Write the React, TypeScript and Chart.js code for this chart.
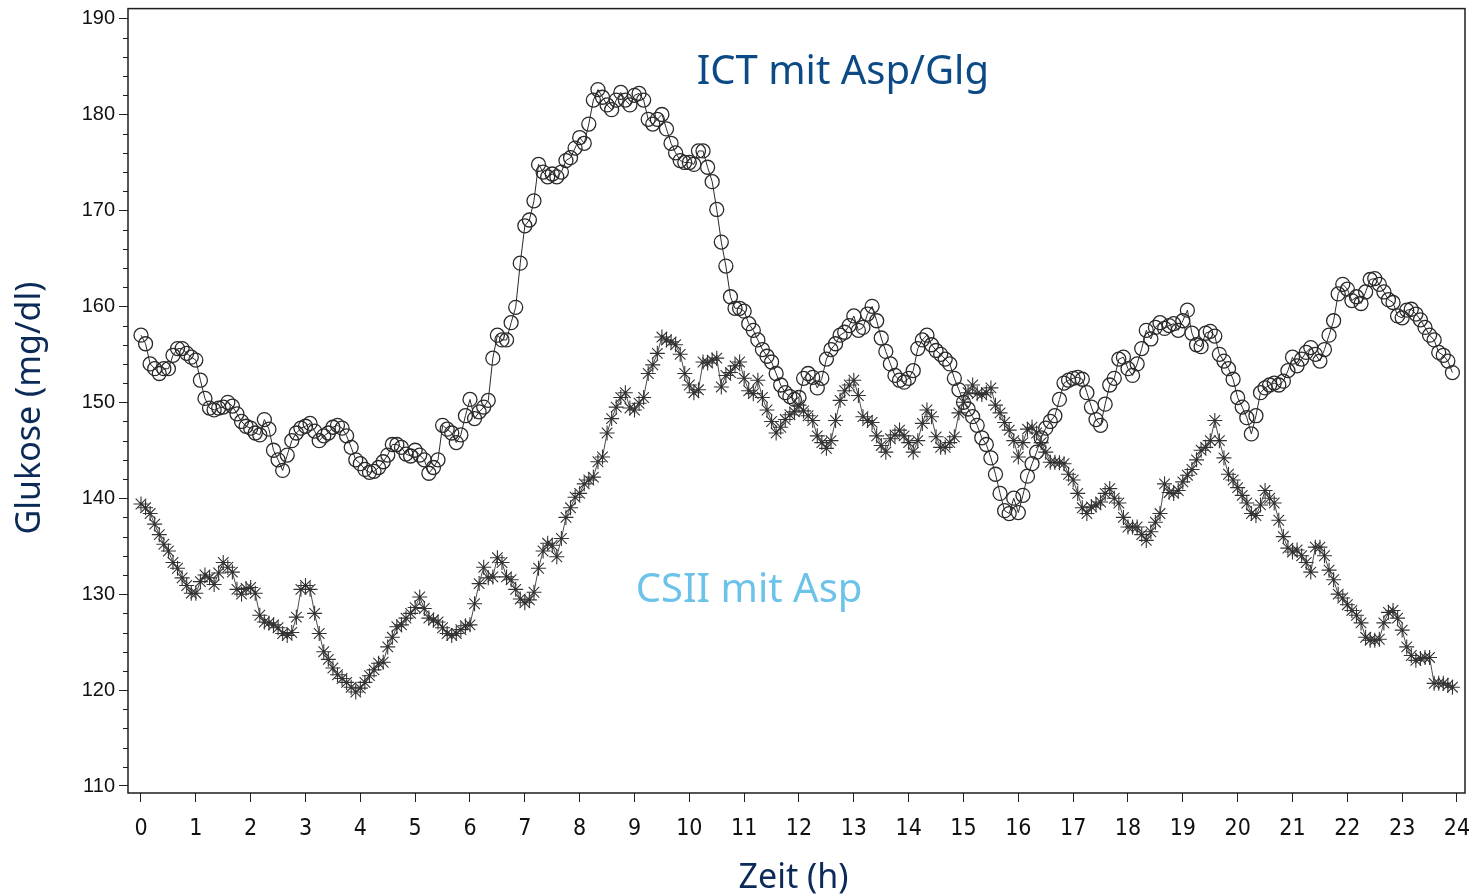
import { useEffect, useRef } from "react";
import { Chart, registerables } from "chart.js";

Chart.register(...registerables);

// Sampling interval of the glucose profiles (minutes)
const sampleMinutes = 5;

// ICT mit Asp/Glg (circles), one row per hour, 5-min values
const ictGlucose = [
  157, 156.1, 154, 153.5, 153, 153.5, 153.5, 154.9, 155.6, 155.6, 155.1, 154.7,
  154.4, 152.3, 150.4, 149.4, 149.2, 149.4, 149.5, 150, 149.6, 148.8, 148, 147.5,
  147.3, 146.8, 146.6, 148.2, 147.2, 145, 144, 142.9, 144.5, 146, 146.8, 147.3,
  147.5, 147.8, 147, 146, 146.5, 146.8, 147.4, 147.6, 147.3, 146.5, 145.3, 144,
  143.6, 143, 142.7, 142.8, 143.2, 143.8, 144.5, 145.6, 145.6, 145.3, 144.6, 144.4,
  145, 144.5, 144, 142.6, 143.2, 144, 147.6, 147.2, 146.8, 145.8, 146.6, 148.6,
  150.3, 148.3, 149, 149.5, 150.2, 154.6, 157, 156.5, 156.5, 158.3, 159.9, 164.5,
  168.4, 169, 171, 174.8, 174, 173.5, 173.8, 173.5, 174, 175.2, 175.5, 176.5,
  177.6, 177, 179, 181.5, 182.6, 181.8, 181, 180.5, 181.5, 182.3, 181.5, 181,
  182, 182.2, 181.5, 179.5, 179, 179.5, 180, 178.5, 177, 176, 175.2, 175,
  175, 174.8, 176.2, 176.2, 174.5, 173, 170.1, 166.7, 164.2, 161, 159.8, 159.8,
  159.5, 158.2, 157.5, 156.5, 155.5, 154.8, 154.2, 153, 151.8, 151, 150.6, 150.3,
  150.5, 152.5, 153, 152.6, 151.5, 152.5, 154.5, 155.5, 156.1, 157, 157.3, 158,
  159, 157.5, 157.8, 159.2, 160, 158.5, 156.7, 155.3, 154, 152.8, 152.3, 152.1,
  152.5, 153.3, 155.6, 156.5, 157, 156, 155.4, 155, 154.5, 154, 152.5, 151.3,
  150, 149.3, 148.5, 147.6, 146.3, 145.6, 144.2, 142.5, 140.5, 138.7, 138.4, 140,
  138.5, 140.3, 142.3, 143.6, 144.8, 146.3, 147.3, 148, 148.6, 150.3, 152, 152.3,
  152.5, 152.6, 152.4, 151, 149.5, 148.2, 147.6, 149.8, 151.8, 152.5, 154.5, 154.7,
  153.5, 152.8, 154, 155.6, 157.5, 156.6, 157.8, 158.3, 157.7, 158, 158.2, 157.5,
  158.5, 159.6, 157.2, 156, 155.8, 157.2, 157.4, 156.9, 155, 154.3, 153.5, 152.4,
  150.5, 149.5, 148.4, 146.7, 148.6, 151, 151.5, 151.8, 152, 151.8, 152.2, 153.3,
  154.7, 153.8, 154.5, 155.2, 155.7, 155, 154.3, 155.5, 157, 158.5, 161.3, 162.3,
  161.8, 160.6, 161, 160.3, 161.5, 162.8, 162.9, 162.3, 161.5, 160.7, 160.4, 159,
  158.8, 159.6, 159.7, 159.2, 158.6, 157.8, 157, 156.5, 155.2, 154.9, 154.3, 153.1,
];

// CSII mit Asp (asterisks), one row per hour, 5-min values
const csiiGlucose = [
  139.4, 139, 138.4, 137.3, 136.2, 135.2, 134.5, 133.3, 132.7, 131.7, 130.9, 130.1,
  130.1, 131.3, 132, 131.7, 131, 132.2, 133.3, 132.8, 132.3, 130.5, 130, 130.6,
  130.7, 130.1, 127.8, 127.1, 127, 126.8, 126.5, 125.9, 125.7, 126, 127.6, 130.5,
  130.9, 130.5, 128, 125.9, 124, 123.2, 122.3, 121.6, 121.2, 120.8, 120.3, 119.8,
  120.2, 120.8, 121.5, 122.1, 122.8, 122.9, 124.5, 125.5, 126.6, 126.8, 127.5, 128,
  128.6, 129.7, 128.5, 127.5, 127.3, 127.1, 126.5, 125.9, 125.7, 125.9, 126.3, 126.7,
  126.8, 129, 131.1, 132.8, 131.7, 131.8, 133.8, 133.3, 131.8, 131.5, 130.5, 129.5,
  129.1, 129.4, 130.2, 132.7, 134.5, 135.3, 135.1, 133.9, 135.8, 138, 139, 140.1,
  140.5, 141.5, 141.9, 142.2, 143.8, 144.3, 146.8, 148.3, 149.5, 150.5, 151, 149.4,
  149.2, 149.9, 150.5, 153, 153.9, 155.1, 156.8, 156.5, 156.3, 156, 155, 153,
  151.8, 151, 151.3, 154.2, 154.1, 154.4, 154.6, 151.6, 152.8, 153.1, 153.8, 154.2,
  152.5, 151.2, 150.9, 152.3, 150.5, 149.2, 148, 146.8, 147.4, 148.2, 148.7, 149,
  149.7, 149.1, 148.6, 148.1, 146.5, 145.8, 145.2, 146, 148.1, 150.2, 151.2, 151.8,
  152.3, 150.7, 148.5, 148.1, 147.9, 146.5, 145.5, 144.8, 146.2, 146.6, 147.1, 146.5,
  145.8, 144.8, 146, 147.8, 149.2, 148.5, 146.4, 145.3, 145.3, 145.8, 146.4, 148.9,
  150, 151, 151.8, 150.9, 150.8, 151, 151.5, 149.7, 148.9, 147.9, 147.1, 146,
  144.3, 145.8, 147.2, 147.4, 146.8, 145.8, 144.8, 143.75, 143.75, 143.7, 143.6, 142.5,
  141.9, 140.5, 139, 138.4, 139.1, 139.3, 139.6, 140.5, 141, 140, 139.5, 138,
  137, 137, 137, 136.2, 135.6, 136.5, 137.5, 138.4, 141.5, 140.6, 140.5, 140.8,
  141.7, 142.4, 143, 144, 145, 145.3, 146, 148.1, 146, 144.2, 142.5, 141.9,
  141.1, 140.3, 139.5, 138.4, 138.2, 139.3, 140.8, 140, 139.5, 137.7, 136, 134.8,
  134.4, 134.6, 134, 133.3, 132.3, 134.9, 134.9, 134, 132.5, 131.5, 130, 129.6,
  128.9, 128.3, 127.8, 127, 125.5, 125.2, 125.2, 125.3, 127, 128.1, 128.3, 127.5,
  126.25, 124.5, 123.6, 123.1, 123.3, 123.4, 123.4, 120.7, 120.7, 120.7, 120.5, 120.3,
];

const hourTicks = [0, 1, 2, 3, 4, 5, 6, 7, 8, 9, 10, 11, 12, 13, 14, 15, 16, 17, 18, 19, 20, 21, 22, 23, 24];
const yMajorTicks = [110, 120, 130, 140, 150, 160, 170, 180, 190];
const yMinorTicks = [
  112, 114, 116, 118, 122, 124, 126, 128, 132, 134, 136, 138, 142, 144, 146, 148,
  152, 154, 156, 158, 162, 164, 166, 168, 172, 174, 176, 178, 182, 184, 186, 188,
];

const ictLabel = "ICT mit Asp/Glg";
const csiiLabel = "CSII mit Asp";
const xTitle = "Zeit (h)";
const yTitle = "Glukose (mg/dl)";

function toPoints(values: number[]) {
  return values.map((v, i) => ({ x: (i * sampleMinutes) / 60, y: v }));
}

const decorPlugin = {
  id: "decor",
  afterDraw(chart: any) {
    const { ctx, chartArea: a, scales } = chart;
    ctx.save();
    // frame
    ctx.strokeStyle = "#1e1e1e";
    ctx.lineWidth = 1.5;
    ctx.strokeRect(a.left, a.top, a.right - a.left, a.bottom - a.top);
    // minor y ticks
    ctx.lineWidth = 1;
    for (const v of yMinorTicks) {
      const y = Math.round(scales.y.getPixelForValue(v)) + 0.5;
      ctx.beginPath();
      ctx.moveTo(a.left - 5, y);
      ctx.lineTo(a.left, y);
      ctx.stroke();
    }
    // series labels
    ctx.textAlign = "center";
    ctx.textBaseline = "middle";
    ctx.font = '40px "Noto Sans", "Open Sans", sans-serif';
    ctx.fillStyle = "#0c4a86";
    ctx.fillText(ictLabel, scales.x.getPixelForValue(12.8), scales.y.getPixelForValue(184.4));
    ctx.fillStyle = "#6cc3ea";
    ctx.fillText(csiiLabel, scales.x.getPixelForValue(11.09), scales.y.getPixelForValue(130.4));
    // axis titles
    ctx.font = '34px "Noto Sans", "Open Sans", sans-serif';
    ctx.fillStyle = "#0b2a57";
    ctx.fillText(xTitle, scales.x.getPixelForValue(11.9), chart.height - 17);
    ctx.translate(30, 408);
    ctx.rotate(-Math.PI / 2);
    ctx.fillText(yTitle, 0, 0);
    ctx.restore();
  },
};

export default function App() {
  const canvasRef = useRef<HTMLCanvasElement | null>(null);

  useEffect(() => {
    document.body.style.margin = "0";
    document.body.style.background = "#ffffff";
    const canvas = canvasRef.current;
    if (!canvas) return;
    const chart = new Chart(canvas, {
      type: "line",
      data: {
        datasets: [
          {
            label: csiiLabel,
            data: toPoints(csiiGlucose),
            borderColor: "#4a4a4a",
            borderWidth: 1,
            pointStyle: "star",
            pointRadius: 7.5,
            pointBorderWidth: 1.1,
            pointBorderColor: "#333333",
            pointBackgroundColor: "rgba(0,0,0,0)",
            tension: 0,
          },
          {
            label: ictLabel,
            data: toPoints(ictGlucose),
            borderColor: "#2a2a2a",
            borderWidth: 1,
            pointStyle: "circle",
            pointRadius: 7,
            pointBorderWidth: 1.3,
            pointBorderColor: "#2a2a2a",
            pointBackgroundColor: "rgba(0,0,0,0)",
            tension: 0,
          },
        ],
      },
      options: {
        animation: false,
        responsive: true,
        maintainAspectRatio: false,
        events: [],
        layout: { padding: { left: 0, right: 9, top: 8, bottom: 0 } },
        plugins: {
          legend: { display: false },
          tooltip: { enabled: false },
        },
        scales: {
          x: {
            type: "linear",
            min: -0.237,
            max: 24.146,
            afterBuildTicks: (scale: any) => {
              scale.ticks = hourTicks.map((v) => ({ value: v }));
            },
            afterFit: (scale: any) => {
              scale.height = 102;
              scale.paddingLeft = 0;
              scale.paddingRight = 0;
            },
            border: { display: false },
            grid: {
              display: true,
              drawOnChartArea: false,
              drawTicks: true,
              tickLength: 9,
              tickColor: "#222222",
              tickWidth: 1,
            },
            ticks: {
              autoSkip: false,
              maxRotation: 0,
              padding: 13,
              color: "#111111",
              font: { family: '"Liberation Sans Narrow", "DejaVu Sans Condensed", "Liberation Sans", Arial', size: 23 },
            },
          },
          y: {
            type: "linear",
            min: 109.27,
            max: 191.04,
            afterBuildTicks: (scale: any) => {
              scale.ticks = yMajorTicks.map((v) => ({ value: v }));
            },
            afterFit: (scale: any) => {
              scale.width = 128;
              scale.paddingTop = 0;
              scale.paddingBottom = 0;
            },
            border: { display: false },
            grid: {
              display: true,
              drawOnChartArea: false,
              drawTicks: true,
              tickLength: 9,
              tickColor: "#222222",
              tickWidth: 1,
            },
            ticks: {
              padding: 4,
              color: "#111111",
              font: { family: '"Liberation Sans", Arial, sans-serif', size: 20 },
            },
          },
        },
      },
      plugins: [decorPlugin],
    });
    return () => chart.destroy();
  }, []);

  return (
    <div style={{ position: "relative", width: 1474, height: 895 }}>
      <canvas ref={canvasRef} />
    </div>
  );
}
